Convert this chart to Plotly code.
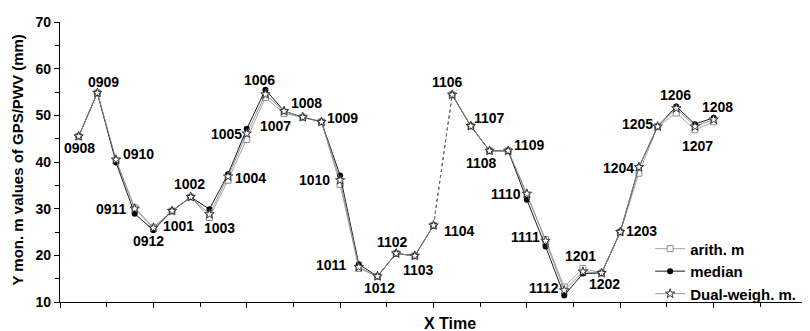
import plotly.graph_objects as go

months = ["0908","0909","0910","0911","0912","1001","1002","1003","1004","1005","1006",
          "1007","1008","1009","1010","1011","1012","1102","1103","1104","1106","1107",
          "1108","1109","1110","1111","1112","1201","1202","1203","1204","1205","1206",
          "1207","1208"]
arith = [45.5,54.8,40.3,30.2,26.0,29.5,32.5,28.1,36.1,44.8,53.8,
         50.4,49.6,48.6,35.2,17.2,15.5,20.4,19.9,26.4,54.4,47.7,
         42.4,42.4,32.9,23.4,13.2,17.2,16.2,25.0,37.6,47.6,50.5,
         46.9,48.6]
median = [45.5,54.8,39.9,28.9,25.4,29.5,32.5,29.9,37.4,47.1,55.5,
          50.9,49.6,48.6,37.1,18.1,15.5,20.4,19.9,26.4,54.4,47.7,
          42.4,42.4,31.9,21.9,11.4,16.1,16.2,25.0,38.9,47.6,51.9,
          48.1,49.5]
dual = [45.5,54.8,40.5,30.0,25.9,29.5,32.5,28.8,36.9,46.1,54.5,
        50.9,49.6,48.6,36.1,17.5,15.5,20.4,19.9,26.4,54.4,47.7,
        42.4,42.4,33.2,23.1,12.5,16.5,16.2,25.0,38.9,47.6,51.5,
        47.6,49.1]

# label offsets in pixels (dx right, dy down)
label_dx = [1,6,22,-23,-5,6,-1,10,22,-20,-6,-9,4,21,-26,-27,2,-4,4,26,-5,19,-8,21,-21,-20,-20,-2,3,21,-20,-20,-1,3,4]
label_dy = [12,-11,-6,0,13,15,-13,14,2,0,-14,15,-14,-4,0,-2,12,-11,14,6,-13,-8,12,-6,0,-4,-2,-16,11,-1,1,-3,-13,19,-13]

x = list(range(1, len(months) + 1))
gap = months.index("1106")  # missing 1105 -> dotted link

fig = go.Figure()

series = [
    ("arith. m", arith, dict(symbol="square", size=6, color="white", line=dict(width=1, color="#8c8c8c")), "#9a9a9a"),
    ("median", median, dict(symbol="circle", size=6, color="black"), "black"),
    ("Dual-weigh. m.", dual, dict(symbol="star", size=7, color="white", line=dict(width=1, color="#333333")), "#8a8a8a"),
]

for name, vals, mk, lc in series:
    fig.add_trace(go.Scatter(x=[x[gap-1], x[gap]], y=[vals[gap-1], vals[gap]], mode="lines",
                             line=dict(color=lc, width=0.8, dash="dot"), showlegend=False, hoverinfo="skip"))
    xs = x[:gap] + [None] + x[gap:]
    ys = vals[:gap] + [None] + vals[gap:]
    fig.add_trace(go.Scatter(x=xs, y=ys, mode="lines+markers", name=name,
                             line=dict(color=lc, width=0.9), marker=mk, connectgaps=False))

for i, m in enumerate(months):
    fig.add_annotation(x=x[i], y=dual[i], text=m, showarrow=False,
                       xshift=label_dx[i], yshift=-label_dy[i],
                       font=dict(family="Liberation Sans", size=14, color="black", weight="bold"))

# axis titles
fig.add_annotation(xref="paper", yref="paper", x=0.522, y=0, yshift=-21, yanchor="middle",
                   text="<b>X Time</b>", showarrow=False, font=dict(size=16, color="black"))
fig.add_annotation(xref="paper", yref="paper", x=0, xshift=-42, y=0.505, xanchor="center", yanchor="middle",
                   textangle=-90, text="<b>Y mon. m values of GPS/PWV (mm)</b>", showarrow=False,
                   font=dict(size=15, color="black"))

# the page body adds an 8px margin, so the figure is sized/offset to compensate
fig.update_layout(
    width=802, height=323,
    margin=dict(l=52, r=3, t=14, b=29, autoexpand=False),
    plot_bgcolor="white", paper_bgcolor="white",
    font=dict(family="Liberation Sans", color="black"),
    showlegend=True,
    legend=dict(x=0.79, y=-0.03, xanchor="left", yanchor="bottom", bgcolor="rgba(0,0,0,0)",
                font=dict(size=15, weight="bold"), tracegroupgap=0, itemwidth=30),
)
fig.update_xaxes(range=[0, 40], showline=True, linecolor="black", linewidth=1.2, automargin=False,
                 ticks="outside", ticklen=5, tickwidth=1, tickcolor="black", dtick=5, tick0=0,
                 showticklabels=False, showgrid=False, zeroline=False,
                 minor=dict(ticks="outside", ticklen=4, dtick=2.5, tick0=0, tickcolor="black", showgrid=False))
fig.update_yaxes(range=[10, 70], showline=True, linecolor="black", linewidth=1.2, automargin=False,
                 ticks="outside", ticklen=5, tickwidth=1, tickcolor="black", dtick=10, tick0=10,
                 showgrid=False, zeroline=False,
                 tickfont=dict(size=14, weight="bold"),
                 minor=dict(ticks="outside", ticklen=4, dtick=5, tick0=10, tickcolor="black", showgrid=False))

fig.write_html("out.html")
